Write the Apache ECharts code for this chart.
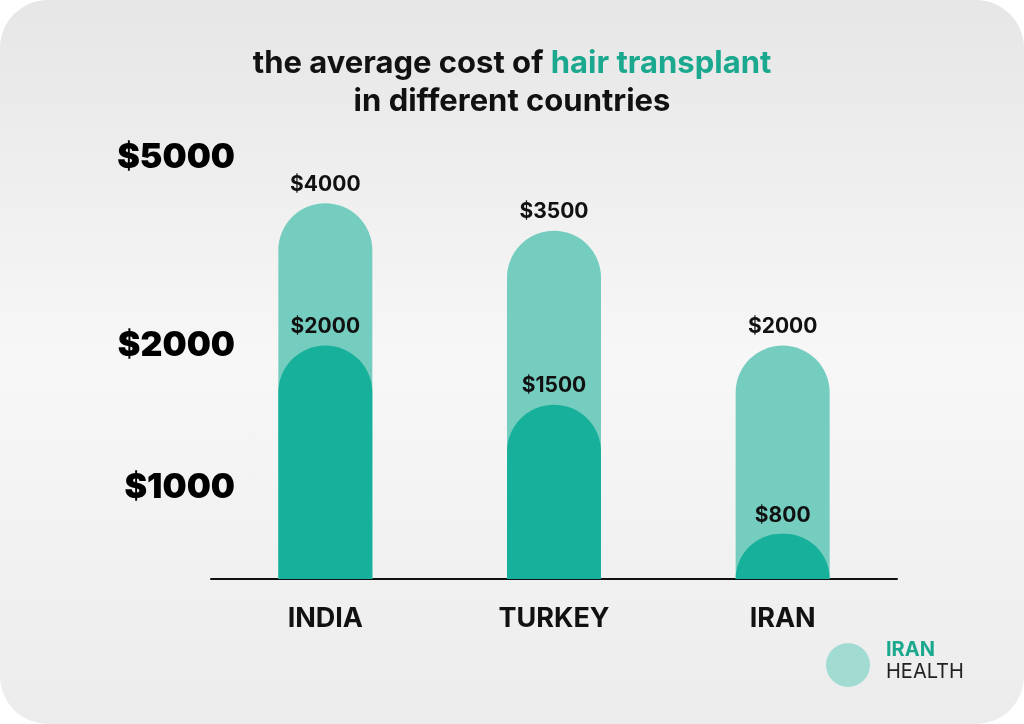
<!DOCTYPE html>
<html>
<head>
<meta charset="utf-8">
<script src="https://cdn.jsdelivr.net/npm/echarts@6/dist/echarts.min.js"></script>
<style>
  html, body { margin: 0; padding: 0; background: #ffffff; }
  #card { position: absolute; left: 0; top: 0; width: 1024px; height: 724px; border-radius: 48px;
          background: linear-gradient(#e6e6e6, #f7f7f7 50%, #ececec); }
  #chart { position: absolute; left: 0; top: 0; width: 1024px; height: 724px; }
</style>
</head>
<body>
<div id="card"></div>
<div id="chart"></div>
<script>
var countries = ['INDIA', 'TURKEY', 'IRAN'];
var maxCost = [4000, 3500, 2000];
var minCost = [2000, 1500, 800];
var tickValues = [1000, 2000, 5000];

var myChart = echarts.init(document.getElementById('chart'));
var font = 'Inter, "Open Sans", sans-serif';

var option = {
    textStyle: { fontFamily: font },
    title: {
        text: '{a|the average cost of }{b|hair transplant}\n{a|in different countries}',
        left: 'center',
        top: 40,
        textStyle: {
            rich: {
                a: { fontSize: 31, fontWeight: 'bold', color: '#111', fontFamily: font, lineHeight: 38 },
                b: { fontSize: 31, fontWeight: 'bold', color: '#1aa88f', fontFamily: font, lineHeight: 38 }
            }
        }
    },
    grid: { left: 211, right: 127, top: 15, bottom: 145 },
    xAxis: [{
        type: 'category',
        data: countries,
        axisTick: { show: false },
        axisLine: { lineStyle: { color: '#111', width: 2 } },
        axisLabel: { color: '#111', fontSize: 27, fontWeight: 'bold', margin: 26 }
    }, {
        type: 'value', min: 0, max: 1, show: false
    }],
    yAxis: {
        type: 'log',
        min: 642,
        max: 10000,
        show: false
    },
    series: [{
        type: 'bar',
        data: maxCost,
        barWidth: 94,
        barGap: '-100%',
        itemStyle: { color: '#75cdbf', borderRadius: [47, 47, 0, 0] },
        label: { show: true, position: 'top', formatter: function (p) { return '$' + p.value; },
                 color: '#111', fontSize: 21, fontWeight: 'bold', distance: 8 }
    }, {
        type: 'bar',
        data: minCost,
        barWidth: 94,
        itemStyle: { color: '#17b09a', borderRadius: [47, 47, 0, 0] },
        label: { show: true, position: 'top', formatter: function (p) { return '$' + p.value; },
                 color: '#111', fontSize: 21, fontWeight: 'bold', distance: 8 }
    }, {
        type: 'scatter',
        xAxisIndex: 1,
        symbolSize: 0,
        data: tickValues.map(function (v) { return [0, v]; }),
        label: { show: true, position: 'left', distance: -24,
                 formatter: function (p) { return '$' + p.value[1]; },
                 color: '#000', fontSize: 34, fontWeight: 900, opacity: 1 },
        itemStyle: { opacity: 1 },
        silent: true
    }],
    graphic: [{
        type: 'text', left: 886, top: 640,
        style: { text: 'IRAN', fill: '#1aa88f', font: 'bold 20px ' + font }
    }, {
        type: 'text', left: 886, top: 662,
        style: { text: 'HEALTH', fill: '#222', font: '20px ' + font }
    }, {
        type: 'circle', shape: { cx: 848, cy: 665, r: 22 },
        style: { fill: '#8fd6cb', opacity: 0.8 }
    }]
};
myChart.setOption(option);
</script>
</body>
</html>
